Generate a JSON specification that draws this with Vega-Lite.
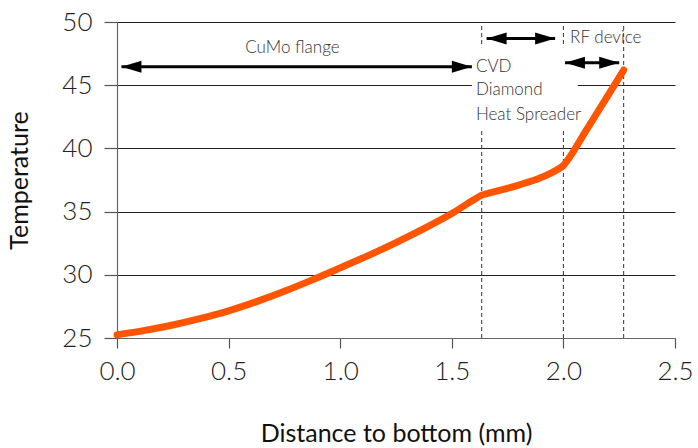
{
  "$schema": "https://vega.github.io/schema/vega-lite/v6.json",
  "width": 558,
  "height": 316,
  "autosize": {"type": "none"},
  "padding": {"left": 117, "top": 22, "right": 23, "bottom": 110},
  "config": {
    "view": {"stroke": null},
    "font": "Lato",
    "axis": {
      "labelFontSize": 26,
      "labelColor": "#222222",
      "labelFont": "Lato",
      "labelFontWeight": 300,
      "titleFontSize": 25,
      "titleFontWeight": "normal",
      "titleColor": "#111111",
      "titleFont": "Lato",
      "domainColor": "#666666",
      "domainWidth": 1.2,
      "tickColor": "#555555",
      "tickWidth": 1.2,
      "gridColor": "#222222",
      "gridWidth": 1,
      "gridOpacity": 1,
      "labelFlush": false,
      "labelOverlap": false
    }
  },
  "datasets": {
    "curve": [
      {"x": 0.0, "y": 25.25},
      {"x": 0.125, "y": 25.6},
      {"x": 0.25, "y": 26.03},
      {"x": 0.375, "y": 26.55},
      {"x": 0.5, "y": 27.15},
      {"x": 0.625, "y": 27.88},
      {"x": 0.75, "y": 28.7},
      {"x": 0.875, "y": 29.6},
      {"x": 1.0, "y": 30.55},
      {"x": 1.125, "y": 31.52},
      {"x": 1.25, "y": 32.55},
      {"x": 1.375, "y": 33.65},
      {"x": 1.5, "y": 34.85},
      {"x": 1.6, "y": 35.95},
      {"x": 1.634, "y": 36.3},
      {"x": 1.67, "y": 36.48},
      {"x": 1.8, "y": 37.1},
      {"x": 1.9, "y": 37.7},
      {"x": 1.97, "y": 38.3},
      {"x": 2.0, "y": 38.65},
      {"x": 2.02, "y": 39.1},
      {"x": 2.1, "y": 41.37},
      {"x": 2.2, "y": 44.2},
      {"x": 2.27, "y": 46.2}
    ],
    "bounds": [
      {"x": 1.634, "y": 25, "y2": 50},
      {"x": 2.0, "y": 25, "y2": 50},
      {"x": 2.27, "y": 25, "y2": 50}
    ],
    "mask": [
      {"x": 1.59, "x2": 2.065, "y": 41.4, "y2": 48.0}
    ],
    "arrows": [
      {"x": 0.02, "x2": 1.59, "y": 46.46},
      {"x": 1.656, "x2": 1.963, "y": 48.7},
      {"x": 2.007, "x2": 2.25, "y": 46.78}
    ],
    "heads": [
      {"x": 0.02, "y": 46.46, "dir": "left"},
      {"x": 1.59, "y": 46.46, "dir": "right"},
      {"x": 1.656, "y": 48.7, "dir": "left"},
      {"x": 1.963, "y": 48.7, "dir": "right"},
      {"x": 2.007, "y": 46.78, "dir": "left"},
      {"x": 2.25, "y": 46.78, "dir": "right"}
    ],
    "centerLabels": [
      {"x": 0.786, "y": 47.52, "text": "CuMo flange"}
    ],
    "leftLabels": [
      {"x": 1.608, "y": 46.07, "text": "CVD"},
      {"x": 1.608, "y": 44.22, "text": "Diamond"},
      {"x": 1.608, "y": 42.25, "text": "Heat Spreader"},
      {"x": 2.03, "y": 48.31, "text": "RF device"}
    ]
  },
  "encoding": {
    "x": {
      "field": "x",
      "type": "quantitative",
      "scale": {"domain": [0, 2.5], "nice": false, "zero": false},
      "axis": {
        "title": "Distance to bottom (mm)",
        "values": [0, 0.5, 1, 1.5, 2, 2.5],
        "format": ".1f",
        "grid": false,
        "tickSize": 10,
        "labelPadding": 10,
        "titlePadding": 37
      }
    },
    "y": {
      "field": "y",
      "type": "quantitative",
      "scale": {"domain": [25, 50], "nice": false, "zero": false},
      "axis": {
        "title": "Temperature",
        "values": [25, 30, 35, 40, 45, 50],
        "grid": true,
        "tickSize": 13,
        "labelPadding": 12,
        "titlePadding": 29
      }
    }
  },
  "layer": [
    {
      "data": {"name": "bounds"},
      "mark": {"type": "rule", "color": "#333333", "strokeWidth": 1, "strokeDash": [4, 3]},
      "encoding": {"y2": {"field": "y2"}}
    },
    {
      "data": {"name": "mask"},
      "mark": {"type": "rect", "fill": "white", "stroke": null},
      "encoding": {"x2": {"field": "x2"}, "y2": {"field": "y2"}}
    },
    {
      "data": {"name": "curve"},
      "mark": {"type": "line", "color": "#ff5500", "strokeWidth": 7, "strokeCap": "round", "strokeJoin": "round", "interpolate": "monotone"}
    },
    {
      "data": {"name": "arrows"},
      "mark": {"type": "rule", "color": "black", "strokeWidth": 3},
      "encoding": {"x2": {"field": "x2"}}
    },
    {
      "data": {"name": "heads"},
      "mark": {"type": "point", "filled": true, "size": 400, "color": "black", "opacity": 1, "strokeWidth": 0},
      "encoding": {
        "shape": {
          "field": "dir",
          "type": "nominal",
          "scale": {"domain": ["left", "right"], "range": ["M0,0L2,-0.6L2,0.6Z", "M0,0L-2,-0.6L-2,0.6Z"]},
          "legend": null
        }
      }
    },
    {
      "data": {"name": "centerLabels"},
      "mark": {"type": "text", "align": "center", "baseline": "alphabetic", "fontSize": 17, "color": "#333333", "font": "Lato", "fontWeight": 300},
      "encoding": {"text": {"field": "text"}}
    },
    {
      "data": {"name": "leftLabels"},
      "mark": {"type": "text", "align": "left", "baseline": "alphabetic", "fontSize": 17, "color": "#333333", "font": "Lato", "fontWeight": 300},
      "encoding": {"text": {"field": "text"}}
    }
  ]
}
